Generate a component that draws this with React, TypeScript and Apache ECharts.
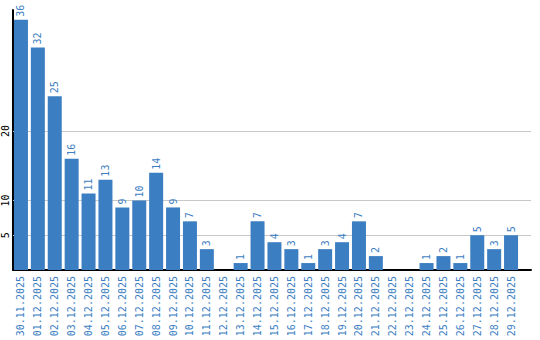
import React, { useEffect, useRef } from "react";
import * as echarts from "echarts";

const categories = [
  "30.11.2025", "01.12.2025", "02.12.2025", "03.12.2025", "04.12.2025", "05.12.2025",
  "06.12.2025", "07.12.2025", "08.12.2025", "09.12.2025", "10.12.2025", "11.12.2025",
  "12.12.2025", "13.12.2025", "14.12.2025", "15.12.2025", "16.12.2025", "17.12.2025",
  "18.12.2025", "19.12.2025", "20.12.2025", "21.12.2025", "22.12.2025", "23.12.2025",
  "24.12.2025", "25.12.2025", "26.12.2025", "27.12.2025", "28.12.2025", "29.12.2025",
];
const values = [36, 32, 25, 16, 11, 13, 9, 10, 14, 9, 7, 3, 0, 1, 7, 4, 3, 1, 3, 4, 7, 2, 0, 0, 1, 2, 1, 5, 3, 5];
const yTicks = [5, 10, 20];

const BLUE = "#3b7ec2";
const FONT = "DejaVu Sans Mono";

export default function App() {
  const ref = useRef<HTMLDivElement>(null);
  useEffect(() => {
    if (!ref.current) return;
    document.body.style.margin = "0";
    const chart = echarts.init(ref.current, undefined, { renderer: "svg" });
    const idx = categories.map((_, i) => i);
    chart.setOption({
      animation: false,
      grid: { left: 10, right: 9, top: 10, bottom: 70, containLabel: false },
      xAxis: {
        type: "value",
        min: -0.47,
        max: 30.18,
        axisLine: { show: true, onZero: false, lineStyle: { color: "#000", width: 2 } },
        axisTick: { show: false },
        splitLine: { show: false },
        axisLabel: {
          customValues: idx,
          formatter: (v: number) => categories[Math.round(v)] ?? "",
          rotate: 90,
          margin: 6,
          color: BLUE,
          fontFamily: FONT,
          fontSize: 10,
          showMinLabel: true,
          showMaxLabel: true,
        },
      },
      yAxis: {
        type: "value",
        min: 0,
        max: 37.4,
        axisLine: { show: true, onZero: false, lineStyle: { color: "#000", width: 2 } },
        axisTick: { show: false },
        splitLine: { show: false },
        axisLabel: {
          customValues: yTicks,
          rotate: 90,
          margin: 3,
          color: "#000",
          fontFamily: FONT,
          fontSize: 10,
        },
      },
      series: [
        {
          type: "bar",
          data: values.map((v, i) => [i, v]),
          barWidth: 14,
          itemStyle: { color: BLUE },
          label: {
            show: true,
            position: "top",
            rotate: 90,
            align: "left",
            verticalAlign: "middle",
            distance: 3,
            color: BLUE,
            fontFamily: FONT,
            fontSize: 10,
            formatter: (p: any) => (p.value[1] ? String(p.value[1]) : ""),
          },
          markLine: {
            silent: true,
            z: 1,
            symbol: "none",
            label: { show: false },
            lineStyle: { color: "#c8c8c8", type: "solid", width: 1 },
            data: yTicks.map((v) => ({ yAxis: v })),
          },
        },
      ],
    });
    return () => chart.dispose();
  }, []);
  return <div ref={ref} style={{ width: 540, height: 340 }} />;
}
